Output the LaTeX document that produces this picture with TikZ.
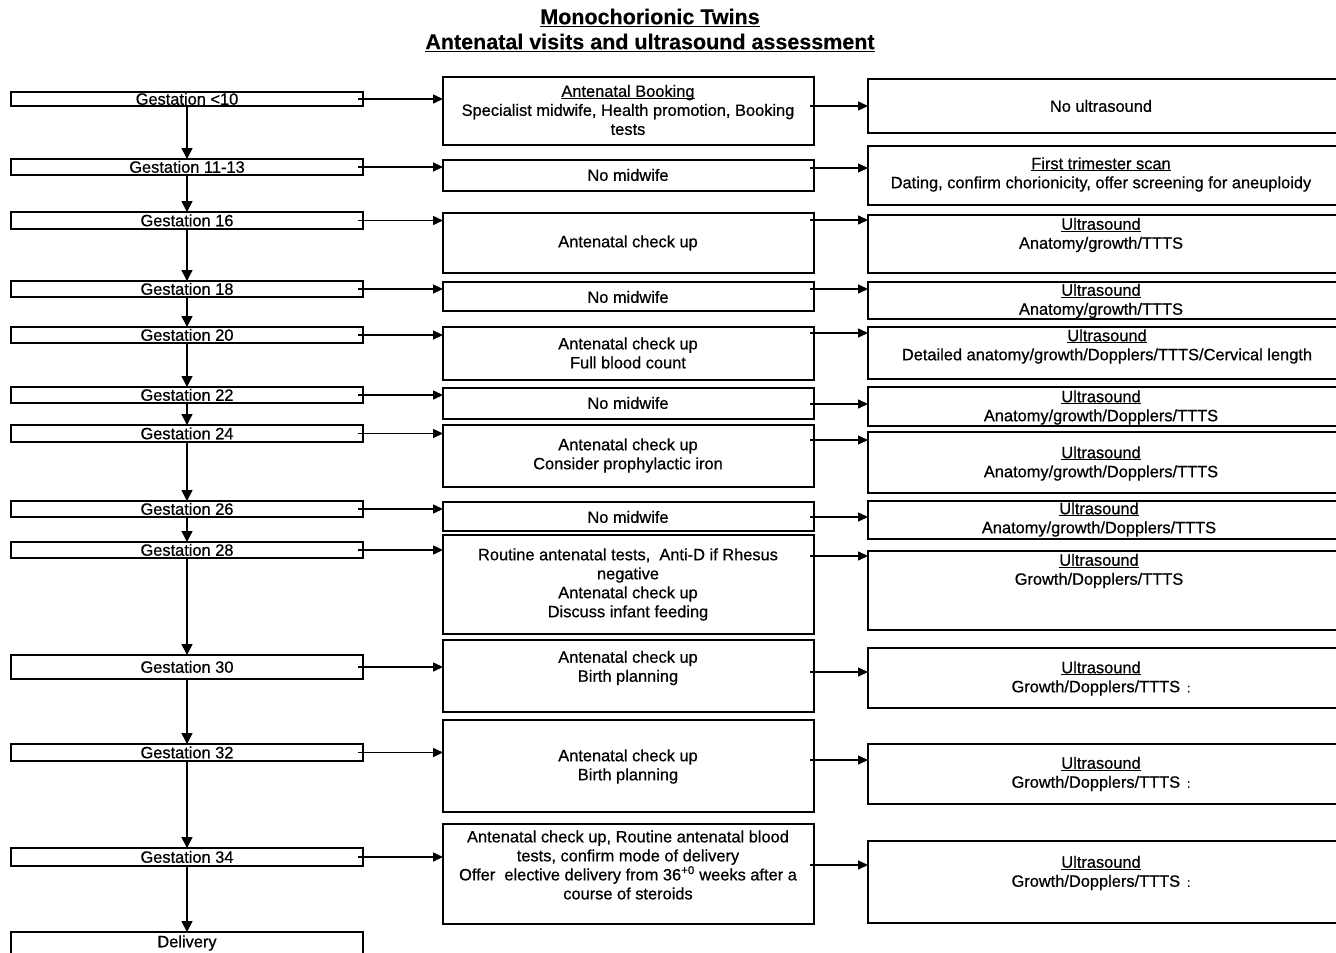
\documentclass[tikz,border=0pt]{standalone}
\usepackage{fontspec}
\setmainfont{Liberation Sans}[FakeBold=0.6]
\newfontfamily\titlefont{Liberation Sans}[FakeBold=0.3]
\usetikzlibrary{arrows.meta}
\newcommand\myul[2][1.1pt]{\setbox0\hbox{#2}\rlap{\rule[-2.2pt]{\wd0}{#1}}\box0}
\newcommand\ttul[1]{\setbox0\hbox{#1}\rlap{\rule[-3.2pt]{\wd0}{1.8pt}}\box0}
\newcommand\dotsmark{\hspace{7pt}{\fontsize{12}{12}\selectfont :}}
\tikzset{
  box/.style={draw, line width=1.6pt, rectangle, inner sep=0pt, outer sep=0pt, fill=white},
  gbox/.style={box, minimum width=352pt, text height=11.5pt, text depth=0pt},
  mbox/.style={box, minimum width=371pt},
  rbox/.style={box, minimum width=477pt},
  txt/.style={align=center, inner sep=0pt, font=\fontsize{16.4}{19}\selectfont},
  arr/.style={-{Triangle[length=10pt,width=9pt]}, line width=1.5pt},
  varr/.style={-{Triangle[length=11pt,width=11pt]}, line width=1.6pt},
}
\begin{document}
\begin{tikzpicture}[x=1pt,y=-1pt, font=\fontsize{16.4}{19}\selectfont]
\useasboundingbox (0,0) rectangle (1336,953);
\clip (0,0) rectangle (1336,953);
\fill[white] (0,0) rectangle (1336,953);

% Title
\node[inner sep=0pt, font=\titlefont\fontsize{21.5}{24}\selectfont\bfseries] (title1) at (650,18) {\ttul{Monochorionic Twins}};
\node[inner sep=0pt, font=\titlefont\fontsize{21.5}{24}\selectfont\bfseries] (title2) at (650,43) {\ttul{Antenatal visits and ultrasound assessment}};

% Left column
\node[gbox, minimum height=14pt] (g1) at (187,99) {Gestation <10};
\node[gbox, minimum height=16pt] (g2) at (187,167) {Gestation 11-13};
\node[gbox, minimum height=17pt] (g3) at (187,220.5) {Gestation 16};
\node[gbox, minimum height=16pt] (g4) at (187,289) {Gestation 18};
\node[gbox, minimum height=16pt] (g5) at (187,335) {Gestation 20};
\node[gbox, minimum height=16pt] (g6) at (187,395) {Gestation 22};
\node[gbox, minimum height=17pt] (g7) at (187,433.5) {Gestation 24};
\node[gbox, minimum height=16pt] (g8) at (187,509) {Gestation 26};
\node[gbox, minimum height=16pt] (g9) at (187,550) {Gestation 28};
\node[gbox, minimum height=24pt] (g10) at (187,667) {Gestation 30};
\node[gbox, minimum height=17pt] (g11) at (187,752.5) {Gestation 32};
\node[gbox, minimum height=18pt] (g12) at (187,857) {Gestation 34};
\node[box, minimum width=352pt, minimum height=33pt] (g13) at (187,948.5) {};
\node[txt] (g13t) at (187,943) {Delivery};

% Middle column
\node[mbox, minimum height=68pt] (m1) at (628.5,111) {};
\node[mbox, minimum height=31pt] (m2) at (628.5,175.5) {};
\node[mbox, minimum height=60pt] (m3) at (628.5,243) {};
\node[mbox, minimum height=29pt] (m4) at (628.5,296.5) {};
\node[mbox, minimum height=53pt] (m5) at (628.5,353.5) {};
\node[mbox, minimum height=31pt] (m6) at (628.5,403.5) {};
\node[mbox, minimum height=62pt] (m7) at (628.5,456) {};
\node[mbox, minimum height=29pt] (m8) at (628.5,516.5) {};
\node[mbox, minimum height=99pt] (m9) at (628.5,584.5) {};
\node[mbox, minimum height=72pt] (m10) at (628.5,676) {};
\node[mbox, minimum height=92pt] (m11) at (628.5,766) {};
\node[mbox, minimum height=100pt] (m12) at (628.5,874) {};

\node[txt] (m1t) at (628,110) {\myul{Antenatal Booking}\\Specialist midwife, Health promotion, Booking\\tests};
\node[txt] (m2t) at (628,175) {No midwife};
\node[txt] (m3t) at (628,243) {Antenatal check up};
\node[txt] (m4t) at (628,297) {No midwife};
\node[txt] (m5t) at (628,353) {Antenatal check up\\Full blood count};
\node[txt] (m6t) at (628,403) {No midwife};
\node[txt] (m7t) at (628,455.5) {Antenatal check up\\Consider prophylactic iron};
\node[txt] (m8t) at (628,517) {No midwife};
\node[txt] (m9t) at (628,584.5) {Routine antenatal tests,\ \ Anti-D if Rhesus\\negative\\Antenatal check up\\Discuss infant feeding};
\node[txt] (m10t) at (628,668) {Antenatal check up\\Birth planning};
\node[txt] (m11t) at (628,766.5) {Antenatal check up\\Birth planning};
\node[txt] (m12t) at (628,865) {Antenatal check up, Routine antenatal blood\\tests, confirm mode of delivery\\Offer\ \ elective delivery from 36\textsuperscript{+0} weeks after a\\course of steroids};

% Right column
\node[rbox, minimum height=54pt] (r1) at (1106.5,106) {};
\node[rbox, minimum height=59pt] (r2) at (1106.5,175.5) {};
\node[rbox, minimum height=58pt] (r3) at (1106.5,244) {};
\node[rbox, minimum height=37pt] (r4) at (1106.5,300.5) {};
\node[rbox, minimum height=52pt] (r5) at (1106.5,353) {};
\node[rbox, minimum height=39pt] (r6) at (1106.5,406.5) {};
\node[rbox, minimum height=61pt] (r7) at (1106.5,462.5) {};
\node[rbox, minimum height=38pt] (r8) at (1106.5,520) {};
\node[rbox, minimum height=79pt] (r9) at (1106.5,590.5) {};
\node[rbox, minimum height=60pt] (r10) at (1106.5,678) {};
\node[rbox, minimum height=60pt] (r11) at (1106.5,774) {};
\node[rbox, minimum height=82pt] (r12) at (1106.5,882) {};

\node[txt] (r1t) at (1101,106) {No ultrasound};
\node[txt] (r2t) at (1101,174.5) {\myul{First trimester scan}\\Dating, confirm chorionicity, offer screening for aneuploidy};
\node[txt] (r3t) at (1101,235) {\myul{Ultrasound}\\Anatomy/growth/TTTS};
\node[txt] (r4t) at (1101,301) {\myul{Ultrasound}\\Anatomy/growth/TTTS};
\node[txt] (r5t) at (1107,346.5) {\myul{Ultrasound}\\Detailed anatomy/growth/Dopplers/TTTS/Cervical length};
\node[txt] (r6t) at (1101,407.5) {\myul{Ultrasound}\\Anatomy/growth/Dopplers/TTTS};
\node[txt] (r7t) at (1101,463.5) {\myul{Ultrasound}\\Anatomy/growth/Dopplers/TTTS};
\node[txt] (r8t) at (1099,519.5) {\myul{Ultrasound}\\Anatomy/growth/Dopplers/TTTS};
\node[txt] (r9t) at (1099,571) {\myul{Ultrasound}\\Growth/Dopplers/TTTS};
\node[txt] (r10t) at (1101,678.5) {\myul{Ultrasound}\\Growth/Dopplers/TTTS\dotsmark};
\node[txt] (r11t) at (1101,774) {\myul{Ultrasound}\\Growth/Dopplers/TTTS\dotsmark};
\node[txt] (r12t) at (1101,873) {\myul{Ultrasound}\\Growth/Dopplers/TTTS\dotsmark};

% Vertical timeline arrows
\foreach \a/\b in {g1/g2,g2/g3,g3/g4,g4/g5,g5/g6,g6/g7,g7/g8,g8/g9,g9/g10,g10/g11,g11/g12,g12/g13}
  \draw[varr] (\a.south) -- (\b.north);

% Left -> middle arrows
\foreach \i in {1,...,12}
  \draw[arr] ([xshift=-5pt]g\i.east) -- (g\i.east -| m\i.west);

% Middle -> right arrows
\foreach \i/\y in {1/106,2/168,3/220,4/289,5/333,6/404,7/440,8/517,9/556,10/672,11/760,12/865}
  \draw[arr] ([xshift=-4pt]m\i.east |- 0,\y) -- (r\i.west |- 0,\y);
\end{tikzpicture}
\end{document}
